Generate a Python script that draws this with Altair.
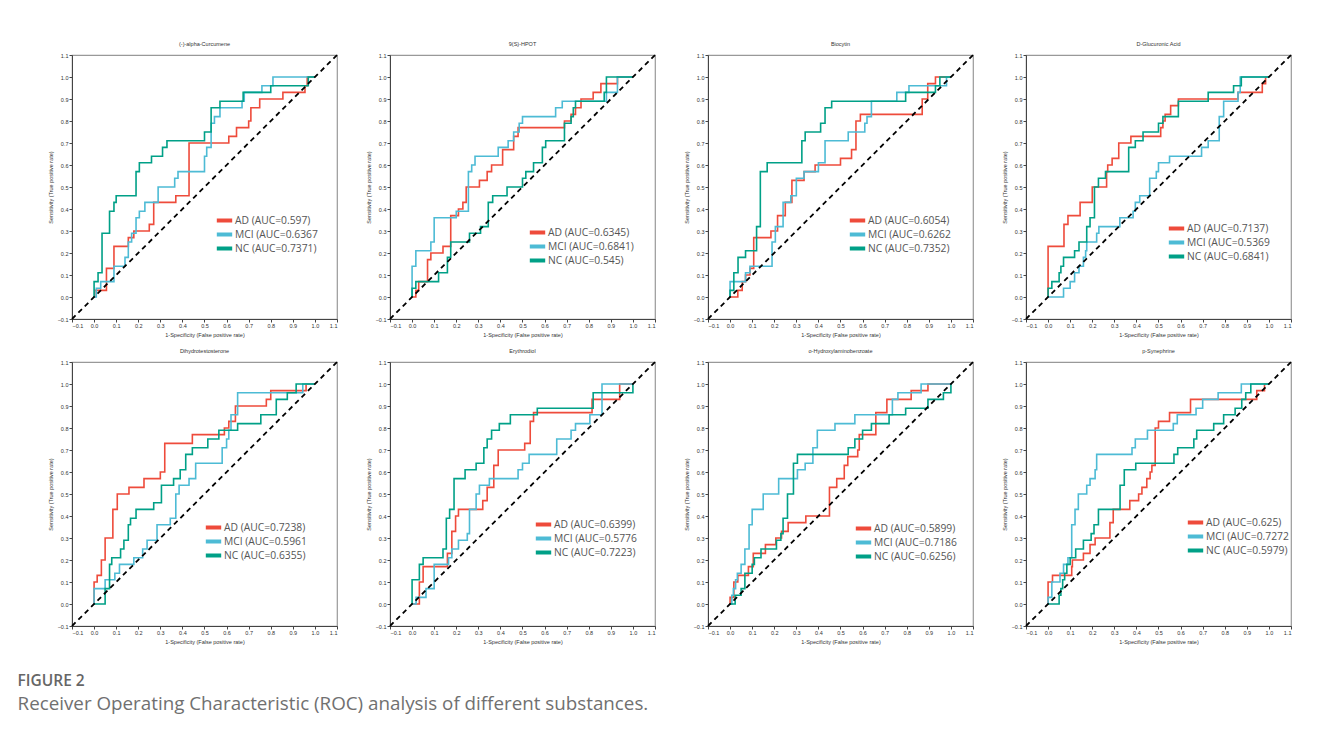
import altair as alt
import pandas as pd

# ---------------- data ----------------
titles = ["(-)-alpha-Curcumene", "9(S)-HPOT", "Biocytin", "D-Glucuronic Acid",
          "Dihydrotestosterone", "Erythrodiol", "o-Hydroxylaminobenzoate", "p-Synephrine"]

ad_labels = ["AD (AUC=0.597)", "AD (AUC=0.6345)", "AD (AUC=0.6054)", "AD (AUC=0.7137)",
             "AD (AUC=0.7238)", "AD (AUC=0.6399)", "AD (AUC=0.5899)", "AD (AUC=0.625)"]
mci_labels = ["MCI (AUC=0.6367", "MCI (AUC=0.6841)", "MCI (AUC=0.6262", "MCI (AUC=0.5369",
              "MCI (AUC=0.5961", "MCI (AUC=0.5776", "MCI (AUC=0.7186", "MCI (AUC=0.7272"]
nc_labels = ["NC (AUC=0.7371)", "NC (AUC=0.545)", "NC (AUC=0.7352)", "NC (AUC=0.6841)",
             "NC (AUC=0.6355)", "NC (AUC=0.7223)", "NC (AUC=0.6256)", "NC (AUC=0.5979)"]

# step-after vertices (fpr, tpr after the jump)
p1_ad = [(0, 0), (0.003, 0.03), (0.056, 0.13), (0.09, 0.23), (0.155, 0.27), (0.18, 0.3), (0.25, 0.33),
         (0.27, 0.43), (0.37, 0.46), (0.43, 0.7), (0.61, 0.73), (0.645, 0.77), (0.7, 0.8), (0.71, 0.86),
         (0.75, 0.9), (0.855, 0.93), (0.955, 0.96), (0.965, 1.0), (1.0, 1.0)]
p1_mci = [(0, 0), (0.01, 0.04), (0.03, 0.07), (0.09, 0.14), (0.14, 0.18), (0.155, 0.25), (0.17, 0.29),
          (0.19, 0.36), (0.205, 0.39), (0.23, 0.43), (0.29, 0.5), (0.365, 0.54), (0.38, 0.57), (0.5, 0.64),
          (0.51, 0.68), (0.53, 0.79), (0.545, 0.82), (0.57, 0.86), (0.67, 0.89), (0.68, 0.93),
          (0.76, 0.96), (0.81, 1.0), (1.0, 1.0)]
p1_nc = [(0, 0), (0, 0.07), (0.018, 0.11), (0.036, 0.29), (0.07, 0.39), (0.09, 0.43), (0.1, 0.46),
         (0.19, 0.57), (0.205, 0.61), (0.26, 0.64), (0.31, 0.68), (0.33, 0.71), (0.5, 0.75), (0.53, 0.86),
         (0.57, 0.89), (0.675, 0.93), (0.8, 0.96), (0.97, 1.0), (1.0, 1.0)]

p2_ad = [(0, 0), (0.017, 0.03), (0.03, 0.07), (0.07, 0.17), (0.085, 0.2), (0.14, 0.23), (0.175, 0.37),
         (0.21, 0.4), (0.23, 0.43), (0.245, 0.5), (0.305, 0.53), (0.34, 0.57), (0.36, 0.6), (0.41, 0.67),
         (0.46, 0.73), (0.48, 0.77), (0.69, 0.8), (0.72, 0.83), (0.74, 0.86), (0.765, 0.9), (0.82, 0.93),
         (0.855, 0.97), (0.93, 1.0), (1.0, 1.0)]
p2_mci = [(0, 0), (0, 0.14), (0.017, 0.21), (0.085, 0.25), (0.1, 0.36), (0.2, 0.39), (0.255, 0.57),
          (0.27, 0.6), (0.285, 0.64), (0.39, 0.68), (0.435, 0.71), (0.46, 0.75), (0.485, 0.79), (0.5, 0.82),
          (0.65, 0.86), (0.68, 0.89), (0.88, 0.93), (0.93, 1.0), (1.0, 1.0)]
p2_nc = [(0, 0), (0, 0.04), (0.017, 0.07), (0.12, 0.11), (0.16, 0.14), (0.16, 0.18), (0.175, 0.25),
         (0.26, 0.29), (0.31, 0.32), (0.345, 0.43), (0.365, 0.46), (0.43, 0.5), (0.5, 0.54), (0.515, 0.57),
         (0.55, 0.61), (0.59, 0.68), (0.605, 0.71), (0.69, 0.79), (0.72, 0.82), (0.73, 0.86), (0.74, 0.89),
         (0.87, 0.93), (0.88, 1.0), (1.0, 1.0)]

p3_ad = [(0, 0), (0.035, 0.03), (0.055, 0.07), (0.07, 0.1), (0.09, 0.13), (0.107, 0.27), (0.185, 0.3),
         (0.215, 0.37), (0.25, 0.43), (0.28, 0.53), (0.335, 0.57), (0.385, 0.6), (0.5, 0.63), (0.55, 0.67),
         (0.57, 0.8), (0.59, 0.83), (0.87, 0.9), (0.895, 0.97), (0.93, 1.0), (1.0, 1.0)]
p3_mci = [(0, 0), (0, 0.07), (0.07, 0.11), (0.09, 0.14), (0.19, 0.25), (0.205, 0.32), (0.24, 0.43),
          (0.275, 0.46), (0.3, 0.54), (0.335, 0.57), (0.4, 0.61), (0.43, 0.71), (0.535, 0.75),
          (0.61, 0.79), (0.62, 0.82), (0.64, 0.89), (0.755, 0.93), (0.81, 0.96), (0.98, 1.0), (1.0, 1.0)]
p3_nc = [(0, 0), (0, 0.03), (0.017, 0.11), (0.036, 0.18), (0.07, 0.21), (0.12, 0.32), (0.137, 0.57),
         (0.168, 0.61), (0.325, 0.71), (0.34, 0.75), (0.41, 0.79), (0.43, 0.86), (0.46, 0.89),
         (0.795, 0.93), (0.93, 0.96), (0.95, 1.0), (1.0, 1.0)]

p4_ad = [(0, 0), (0, 0.23), (0.072, 0.33), (0.09, 0.37), (0.145, 0.43), (0.2, 0.5), (0.265, 0.57),
         (0.27, 0.6), (0.29, 0.63), (0.32, 0.7), (0.375, 0.73), (0.51, 0.77), (0.52, 0.8), (0.53, 0.83),
         (0.555, 0.87), (0.59, 0.9), (0.86, 0.93), (0.97, 0.97), (0.985, 1.0), (1.0, 1.0)]
p4_mci = [(0, 0), (0.07, 0.04), (0.1, 0.07), (0.12, 0.11), (0.14, 0.14), (0.16, 0.18), (0.17, 0.21),
          (0.175, 0.25), (0.22, 0.29), (0.23, 0.32), (0.325, 0.36), (0.385, 0.39), (0.395, 0.43),
          (0.415, 0.46), (0.46, 0.54), (0.49, 0.57), (0.5, 0.61), (0.55, 0.64), (0.695, 0.68),
          (0.725, 0.71), (0.775, 0.82), (0.795, 0.89), (0.86, 0.93), (0.87, 1.0), (1.0, 1.0)]
p4_nc = [(0, 0), (0, 0.04), (0.017, 0.07), (0.05, 0.11), (0.058, 0.14), (0.07, 0.18), (0.12, 0.21),
         (0.14, 0.25), (0.175, 0.32), (0.19, 0.36), (0.21, 0.5), (0.228, 0.54), (0.26, 0.57),
         (0.365, 0.68), (0.395, 0.71), (0.43, 0.75), (0.5, 0.79), (0.52, 0.82), (0.59, 0.89),
         (0.725, 0.93), (0.84, 0.96), (0.875, 1.0), (1.0, 1.0)]

p5_ad = [(0, 0), (0, 0.1), (0.014, 0.13), (0.033, 0.2), (0.05, 0.3), (0.085, 0.43), (0.105, 0.5),
         (0.158, 0.53), (0.226, 0.57), (0.3, 0.6), (0.32, 0.73), (0.445, 0.77), (0.59, 0.8), (0.61, 0.83),
         (0.64, 0.9), (0.78, 0.93), (0.8, 0.97), (0.96, 1.0), (1.0, 1.0)]
p5_mci = [(0, 0), (0, 0.07), (0.05, 0.11), (0.094, 0.14), (0.115, 0.18), (0.18, 0.21), (0.22, 0.25),
          (0.24, 0.29), (0.285, 0.36), (0.345, 0.39), (0.37, 0.5), (0.385, 0.54), (0.43, 0.57),
          (0.46, 0.64), (0.58, 0.71), (0.6, 0.75), (0.61, 0.79), (0.62, 0.86), (0.65, 0.96),
          (0.945, 1.0), (1.0, 1.0)]
p5_nc = [(0, 0), (0.05, 0.07), (0.07, 0.18), (0.08, 0.21), (0.12, 0.25), (0.135, 0.29), (0.155, 0.36),
         (0.165, 0.39), (0.19, 0.43), (0.27, 0.46), (0.305, 0.54), (0.36, 0.57), (0.39, 0.61),
         (0.415, 0.68), (0.445, 0.71), (0.515, 0.75), (0.565, 0.79), (0.65, 0.82), (0.755, 0.86),
         (0.825, 0.93), (0.875, 0.96), (0.915, 1.0), (1.0, 1.0)]

p6_ad = [(0, 0), (0.02, 0.0), (0.033, 0.1), (0.05, 0.17), (0.16, 0.23), (0.18, 0.33), (0.197, 0.4),
         (0.21, 0.43), (0.32, 0.47), (0.34, 0.53), (0.37, 0.63), (0.39, 0.7), (0.51, 0.73), (0.535, 0.83),
         (0.55, 0.87), (0.815, 0.93), (0.94, 1.0), (1.0, 1.0)]
p6_mci = [(0, 0), (0.018, 0.03), (0.063, 0.07), (0.1, 0.18), (0.165, 0.21), (0.18, 0.25), (0.21, 0.29),
          (0.25, 0.32), (0.26, 0.43), (0.29, 0.5), (0.305, 0.54), (0.35, 0.57), (0.48, 0.61), (0.5, 0.64),
          (0.53, 0.68), (0.655, 0.75), (0.72, 0.79), (0.74, 0.82), (0.805, 0.86), (0.86, 1.0), (1.0, 1.0)]
p6_nc = [(0, 0), (0, 0.11), (0.033, 0.18), (0.05, 0.21), (0.14, 0.25), (0.155, 0.39), (0.17, 0.43),
         (0.19, 0.57), (0.24, 0.61), (0.29, 0.64), (0.325, 0.71), (0.34, 0.75), (0.36, 0.79),
         (0.395, 0.82), (0.445, 0.86), (0.567, 0.89), (0.82, 0.96), (1.0, 1.0)]

p7_ad = [(0, 0), (0, 0.03), (0.017, 0.1), (0.035, 0.13), (0.083, 0.17), (0.105, 0.23), (0.16, 0.27),
         (0.207, 0.3), (0.233, 0.33), (0.263, 0.37), (0.343, 0.4), (0.45, 0.53), (0.483, 0.57),
         (0.517, 0.63), (0.533, 0.67), (0.578, 0.7), (0.585, 0.77), (0.66, 0.87), (0.71, 0.93),
         (0.82, 0.97), (0.896, 1.0), (1.0, 1.0)]
p7_mci = [(0, 0), (0.008, 0.04), (0.015, 0.07), (0.025, 0.11), (0.033, 0.14), (0.05, 0.18),
          (0.067, 0.25), (0.086, 0.36), (0.1, 0.43), (0.15, 0.5), (0.22, 0.57), (0.305, 0.61),
          (0.34, 0.64), (0.375, 0.71), (0.395, 0.79), (0.475, 0.82), (0.565, 0.86), (0.735, 0.93),
          (0.76, 0.96), (0.865, 1.0), (1.0, 1.0)]
p7_nc = [(0, 0), (0.023, 0.04), (0.05, 0.07), (0.067, 0.14), (0.1, 0.18), (0.11, 0.21), (0.14, 0.25),
         (0.21, 0.29), (0.23, 0.32), (0.24, 0.39), (0.26, 0.5), (0.287, 0.64), (0.305, 0.68),
         (0.535, 0.71), (0.565, 0.75), (0.6, 0.79), (0.64, 0.82), (0.72, 0.86), (0.795, 0.89),
         (0.896, 0.93), (0.966, 0.96), (1.0, 1.0)]

p8_ad = [(0, 0), (0, 0.1), (0.02, 0.13), (0.107, 0.17), (0.11, 0.2), (0.16, 0.23), (0.19, 0.27),
         (0.213, 0.3), (0.28, 0.37), (0.295, 0.43), (0.37, 0.47), (0.41, 0.5), (0.425, 0.53),
         (0.447, 0.57), (0.462, 0.6), (0.47, 0.63), (0.485, 0.8), (0.5, 0.83), (0.55, 0.87),
         (0.645, 0.93), (0.945, 0.97), (0.98, 1.0), (1.0, 1.0)]
p8_mci = [(0, 0), (0, 0.03), (0.017, 0.1), (0.054, 0.14), (0.07, 0.18), (0.09, 0.21), (0.107, 0.36),
          (0.122, 0.43), (0.137, 0.5), (0.175, 0.54), (0.19, 0.57), (0.213, 0.61), (0.22, 0.68),
          (0.38, 0.71), (0.395, 0.75), (0.45, 0.79), (0.567, 0.82), (0.585, 0.86), (0.67, 0.89),
          (0.7, 0.93), (0.77, 0.96), (0.875, 1.0), (1.0, 1.0)]
p8_nc = [(0, 0), (0.05, 0.04), (0.058, 0.07), (0.066, 0.11), (0.075, 0.14), (0.085, 0.18), (0.1, 0.21),
         (0.125, 0.25), (0.16, 0.29), (0.195, 0.32), (0.208, 0.36), (0.228, 0.43), (0.326, 0.54),
         (0.345, 0.61), (0.397, 0.64), (0.57, 0.68), (0.587, 0.71), (0.66, 0.75), (0.673, 0.79),
         (0.75, 0.82), (0.795, 0.86), (0.847, 0.89), (0.877, 0.93), (0.895, 0.96), (0.918, 1.0),
         (1.0, 1.0)]

curves = [(p1_ad, p1_mci, p1_nc), (p2_ad, p2_mci, p2_nc), (p3_ad, p3_mci, p3_nc), (p4_ad, p4_mci, p4_nc),
          (p5_ad, p5_mci, p5_nc), (p6_ad, p6_mci, p6_nc), (p7_ad, p7_mci, p7_nc), (p8_ad, p8_mci, p8_nc)]

diag = [-0.1, 1.1]
ticks = [-0.1, 0.0, 0.1, 0.2, 0.3, 0.4, 0.5, 0.6, 0.7, 0.8, 0.9, 1.0, 1.1]
colors = ["#EE4B3B", "#4DBBD5", "#00A087"]

# legend placement inside each panel (pixels from plot origin)
legend_x = [147, 142, 144, 145, 136, 148, 150, 164]
legend_y = [160, 172, 160, 168, 160, 157, 161, 155]

W, H = 265, 264
AXFONT = "Liberation Sans"


def panel(k):
    rows = []
    labs = [ad_labels[k], mci_labels[k], nc_labels[k]]
    for g, pts in enumerate(curves[k]):
        for i, (x, y) in enumerate(pts):
            rows.append({"fpr": x, "tpr": y, "grp": labs[g], "i": i})
    df = pd.DataFrame(rows)
    xs = alt.Scale(domain=[-0.1, 1.1], nice=False, zero=False)
    ys = alt.Scale(domain=[-0.1, 1.1], nice=False, zero=False)
    xax = alt.Axis(values=ticks, format=".1f", title="1-Specificity (False positive rate)",
                   labelFontSize=5.5, titleFontSize=5.5, titleFontWeight="normal", titlePadding=4,
                   tickSize=3, labelPadding=1, domainColor="#444", tickColor="#444", grid=False,
                   labelFont=AXFONT, titleFont=AXFONT, labelColor="#333", titleColor="#333")
    yax = alt.Axis(values=ticks, format=".1f", title="Sensitivity (True positive rate)",
                   labelFontSize=5.5, titleFontSize=5.5, titleFontWeight="normal", titlePadding=4,
                   tickSize=3, labelPadding=1, domainColor="#444", tickColor="#444", grid=False,
                   labelFont=AXFONT, titleFont=AXFONT, labelColor="#333", titleColor="#333")
    lines = alt.Chart(df).mark_line(interpolate="step-after", strokeWidth=1.6).encode(
        x=alt.X("fpr:Q", scale=xs, axis=xax),
        y=alt.Y("tpr:Q", scale=ys, axis=yax),
        color=alt.Color("grp:N", scale=alt.Scale(domain=labs, range=colors),
                        legend=alt.Legend(title=None, orient="none", legendX=legend_x[k], legendY=legend_y[k],
                                          symbolType="M-2.2,0H2.2", symbolStrokeWidth=4, symbolSize=49,
                                          labelFontSize=10.3, labelColor="#555", labelFont="Open Sans",
                                          rowPadding=-9, labelOffset=5, labelLimit=300)),
        order=alt.Order("i:Q"),
    )
    ddf = pd.DataFrame({"fpr": diag, "tpr": diag})
    dline = alt.Chart(ddf).mark_line(color="black", strokeDash=[5, 4], strokeWidth=1.8).encode(
        x=alt.X("fpr:Q", scale=xs, axis=xax), y=alt.Y("tpr:Q", scale=ys, axis=yax))
    return alt.layer(lines, dline).properties(
        width=W, height=H,
        title=alt.TitleParams(titles[k], fontSize=5.5, fontWeight="normal", font=AXFONT,
                              color="#333", offset=4))


row1 = alt.hconcat(*[panel(k) for k in range(4)], spacing=23).resolve_scale(color="independent")
row2 = alt.hconcat(*[panel(k) for k in range(4, 8)], spacing=23).resolve_scale(color="independent")

chart = alt.vconcat(row1, row2, spacing=9).resolve_scale(color="independent").properties(
    padding={"left": 9, "top": 33, "right": 5, "bottom": 5},
    title=alt.TitleParams("FIGURE 2",
                          subtitle="Receiver Operating Characteristic (ROC) analysis of different substances.",
                          orient="bottom", anchor="start", font="Open Sans", fontSize=15.5,
                          fontWeight=600, color="#666666", subtitleFont="Open Sans", subtitleFontSize=18.8,
                          subtitleColor="#707070", subtitlePadding=6, offset=28, dx=-30),
).configure_view(stroke="#999999", strokeWidth=1.2)

chart.save("out.html", embed_options={"renderer": "svg", "actions": False})
